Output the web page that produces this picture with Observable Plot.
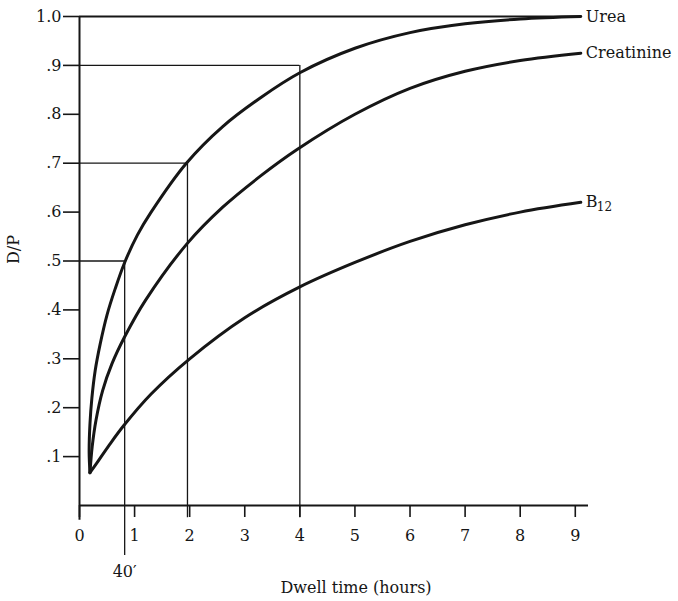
<!DOCTYPE html>
<html>
<head>
<meta charset="utf-8">
<script src="https://cdn.jsdelivr.net/npm/d3@7"></script>
<script src="https://cdn.jsdelivr.net/npm/@observablehq/plot@0.6"></script>
<style>
  html, body { margin: 0; padding: 0; background: #fff; }
  #chart svg { display: block; }
</style>
</head>
<body>
<div id="chart"></div>
<script>
// ---- data ----
const ureaHours = [0.19, 0.175, 0.19, 0.225, 0.285, 0.375, 0.5, 0.65, 0.82, 1.05, 1.3, 1.94, 2.6, 3.3, 4, 5, 6, 7, 8, 9.1];
const ureaDP    = [0.067, 0.11, 0.167, 0.22, 0.276, 0.33, 0.39, 0.444, 0.497, 0.553, 0.6, 0.7, 0.775, 0.835, 0.885, 0.935, 0.967, 0.985, 0.995, 1.0];

const creatHours = [0.19, 0.23, 0.3, 0.42, 0.59, 0.82, 1.2, 1.95, 2.6, 3.3, 3.95, 5, 6, 7, 8, 9.1];
const creatDP    = [0.067, 0.12, 0.175, 0.235, 0.29, 0.345, 0.42, 0.535, 0.61, 0.675, 0.728, 0.8, 0.853, 0.888, 0.91, 0.925];

const b12Hours = [0.19, 0.31, 0.53, 0.8, 1.3, 2, 3, 4, 5, 6, 7, 8, 9.1];
const b12DP    = [0.067, 0.086, 0.122, 0.163, 0.228, 0.3, 0.384, 0.447, 0.497, 0.54, 0.574, 0.6, 0.62];

const seriesNames = ["Urea", "Creatinine", "B12"];
// reference guide lines: dwell time and D/P reached by urea
const guideHours = [0.82, 1.96, 4];
const guideDP    = [0.5, 0.7, 0.9];
const guide40Label = "40′";

const xTicks = [0, 1, 2, 3, 4, 5, 6, 7, 8, 9];
const yTicks = [0.1, 0.2, 0.3, 0.4, 0.5, 0.6, 0.7, 0.8, 0.9, 1.0];
const xLabel = "Dwell time (hours)";
const yLabel = "D/P";

// ---- build tables ----
const toRows = (hs, vs, name) => hs.map((h, i) => ({hours: h, dp: vs[i], series: name}));
const curves = [
  toRows(ureaHours, ureaDP, seriesNames[0]),
  toRows(creatHours, creatDP, seriesNames[1]),
  toRows(b12Hours, b12DP, seriesNames[2])
];
const ends = curves.map(c => c[c.length - 1]);
const guides = guideHours.map((h, i) => ({hours: h, dp: guideDP[i]}));

const ink = "#161616";
const font = "DejaVu Serif, Liberation Serif, serif";

const chart = Plot.plot({
  width: 678,
  height: 601,
  marginLeft: 79,
  marginRight: 90,
  marginTop: 16,
  marginBottom: 96,
  style: {fontFamily: font, fontSize: "16px", color: ink, background: "#fff"},
  x: {domain: [0, 9.24]},
  y: {domain: [0, 1]},
  marks: [
    // guide lines (horizontal from axis to curve, vertical down)
    Plot.ruleY(guides, {y: "dp", x1: 0, x2: "hours", stroke: ink, strokeWidth: 1.3}),
    Plot.ruleX(guides.slice(1), {x: "hours", y1: -0.025, y2: "dp", stroke: ink, strokeWidth: 1.3}),
    Plot.ruleX(guides.slice(0, 1), {x: "hours", y1: -0.102, y2: "dp", stroke: ink, strokeWidth: 1.3}),
    Plot.text(guides.slice(0, 1), {x: "hours", frameAnchor: "bottom", dy: 71, text: () => guide40Label, fontSize: 16, fill: ink}),
    // top line at 1.0
    Plot.ruleY([1], {x1: 0, x2: ends[0].hours, stroke: ink, strokeWidth: 2}),
    // axes lines
    Plot.ruleY([0], {stroke: ink, strokeWidth: 2}),
    Plot.ruleX([0], {y1: -0.03, y2: 1, stroke: ink, strokeWidth: 2}),
    Plot.axisX({ticks: xTicks, tickSize: 12, tickPadding: 12, tickFormat: d => String(d), label: null, stroke: ink, strokeWidth: 1.6, fontSize: 16}),
    Plot.axisY({ticks: yTicks, tickSize: 16, tickPadding: 2, tickFormat: d => d === 1 ? "1.0" : "." + Math.round(d * 10), label: null, stroke: ink, strokeWidth: 1.6, fontSize: 16}),
    // curves
    ...curves.map(c => Plot.line(c, {x: "hours", y: "dp", curve: "catmull-rom", stroke: ink, strokeWidth: 3, strokeLinejoin: "round", strokeLinecap: "round"})),
    // end labels
    Plot.text(ends.slice(0, 2), {x: "hours", y: "dp", text: "series", textAnchor: "start", dx: 5, fontSize: 16, fill: ink}),
    Plot.text(ends.slice(2), {x: "hours", y: "dp", text: () => "B", textAnchor: "start", dx: 5, fontSize: 16, fill: ink}),
    Plot.text(ends.slice(2), {x: "hours", y: "dp", text: () => "12", textAnchor: "start", dx: 16, dy: 5, fontSize: 12, fill: ink}),
    // axis titles
    Plot.text([xLabel], {frameAnchor: "bottom", dx: 22, dy: 87, text: d => d, fontSize: 16, fill: ink}),
    Plot.text([yLabel], {frameAnchor: "left", dx: -66, dy: 3, rotate: -90, text: d => d, fontSize: 16, fill: ink})
  ]
});
document.getElementById("chart").appendChild(chart);
</script>
</body>
</html>
